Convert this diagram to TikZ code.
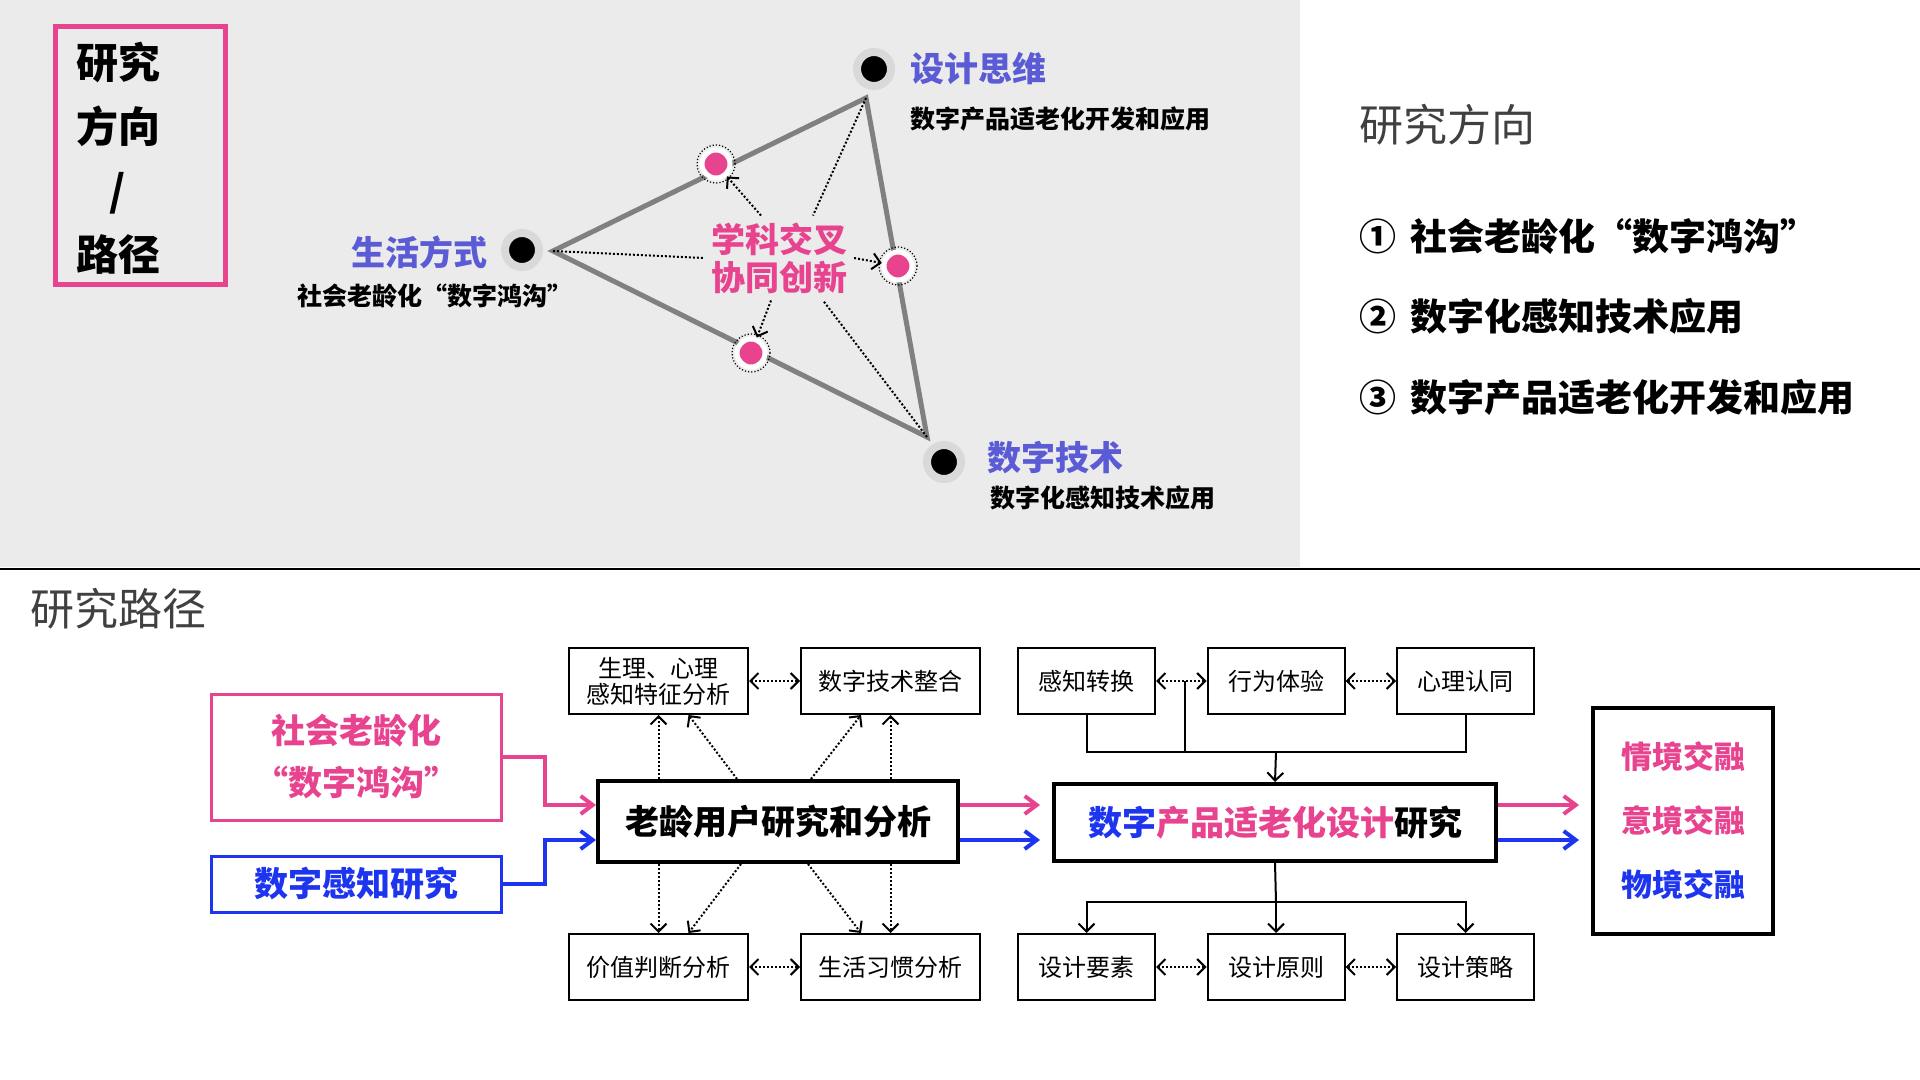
\documentclass[tikz,border=0pt]{standalone}
\usepackage{fontspec}
\newfontfamily\cjk{Noto Sans CJK SC}
\usetikzlibrary{arrows.meta,calc}
\definecolor{pinkc}{HTML}{E8438F}
\definecolor{labc}{HTML}{5B5BD6}
\definecolor{bluec}{HTML}{1E35F0}
\definecolor{bgc}{HTML}{EBEBEB}
\begin{document}
\begin{tikzpicture}[x=0.5pt,y=-0.5pt,font=\cjk,
box/.style={draw,line width=1pt,minimum width=89.5pt,minimum height=33pt,inner sep=1pt,font=\cjk\fontsize{12}{13}\selectfont,align=center},
gbox/.style={box,minimum width=68.5pt},
dar/.style={densely dotted,line width=1pt,{Straight Barb[length=4pt]}-{Straight Barb[length=4pt]}},
sar/.style={densely dotted,line width=1pt,-{Straight Barb[length=4pt]}},
car/.style={line width=2pt,-{Straight Barb[length=6pt,width=9pt]}},
main node/.style={circle,fill=black,minimum size=17pt,inner sep=0pt,draw=black!15,line width=4pt},
mid node/.style={circle,fill=pinkc,minimum size=14pt,inner sep=0pt,draw=white,line width=2.5pt},
big/.style={font=\cjk\fontsize{17}{20}\selectfont\bfseries},
sub/.style={font=\cjk\fontsize{12.5}{14}\selectfont\bfseries}]
\useasboundingbox (0,0) rectangle (1920,1080);
\fill[bgc] (0,0) rectangle (1300,567);
\draw[line width=1pt] (0,569) -- (1920,569);

% research direction
\node[draw=pinkc,line width=2.5pt,minimum width=85pt,minimum height=129pt] (title) at (140,156) {};
\node[align=center,font=\cjk\fontsize{21}{32}\selectfont\bfseries] (titlet) at (118,158) {研究\\方向\\/\\路径};

\coordinate (vt) at (866,98);
\coordinate (vl) at (553,251);
\coordinate (vb) at (927,437);
\draw[gray,line width=2.5pt] (vt) -- (vl) -- (vb) -- cycle;
\node[text=pinkc,align=center,font=\cjk\fontsize{17}{19}\selectfont\bfseries] (cross) at (779,258) {学科交叉\\协同创新};
\draw[densely dotted,line width=1pt] (vl) -- (cross.west);
\draw[densely dotted,line width=1pt] (vt) -- ([xshift=17pt]cross.north);
\draw[densely dotted,line width=1pt] (vb) -- ([xshift=22pt]cross.south);

\node[main node] (dt) at (874,69) {};
\node[main node] (ls) at (522,250) {};
\node[main node] (tech) at (944,462) {};
\node[mid node] (m1) at (716,164) {};
\node[mid node] (m2) at (898,266) {};
\node[mid node] (m3) at (751,353) {};
\foreach \m in {m1,m2,m3} \draw[densely dotted,line width=0.6pt] (\m) circle (9.5pt);
\draw[sar] ([xshift=-9pt]cross.north) -- (m1);
\draw[sar] (cross.east) -- (m2);
\draw[sar] ([xshift=-4pt]cross.south) -- (m3);

\node[big,text=labc,anchor=west] (dtl) at (903,69) {设计思维};
\node[sub,anchor=west] at (903,119) {数字产品适老化开发和应用};
\node[big,text=labc,anchor=east] (lsl) at (495,252) {生活方式};
\node[sub] at (435,296) {社会老龄化“数字鸿沟”};
\node[big,text=labc,anchor=west] (techl) at (980,458) {数字技术};
\node[sub,anchor=west] at (983,498) {数字化感知技术应用};

\node[anchor=west,text=black!75,font=\cjk\fontsize{22}{24}\selectfont] at (1352,125) {研究方向};
\node[anchor=west,font=\cjk\fontsize{18.5}{20}\selectfont\bfseries] at (1352,236) {①\,\ 社会老龄化“数字鸿沟”};
\node[anchor=west,font=\cjk\fontsize{18.5}{20}\selectfont\bfseries] at (1352,316) {②\,\ 数字化感知技术应用};
\node[anchor=west,font=\cjk\fontsize{18.5}{20}\selectfont\bfseries] at (1352,397) {③\,\ 数字产品适老化开发和应用};

% research path
\node[text=black!75,font=\cjk\fontsize{22}{24}\selectfont] at (118,609) {研究路径};
\node[draw=pinkc,line width=1.5pt,minimum width=145pt,minimum height=63pt,text=pinkc,align=center,
font=\cjk\fontsize{17}{26}\selectfont\bfseries] (aging) at (356,757) {社会老龄化\\“数字鸿沟”};
\node[draw=bluec,line width=1.5pt,minimum width=145pt,minimum height=28pt,text=bluec,
font=\cjk\fontsize{17}{18}\selectfont\bfseries] (sense) at (356,884) {数字感知研究};
\node[draw,line width=2pt,minimum width=180pt,minimum height=40.5pt,
font=\cjk\fontsize{17}{18}\selectfont\bfseries] (user) at (778,821.5) {老龄用户研究和分析};

\node[box] (phys) at (658.5,681) {生理、心理\\感知特征分析};
\node[box] (integ) at (890.5,681) {数字技术整合};
\node[box] (value) at (658.5,967) {价值判断分析};
\node[box] (habit) at (890.5,967) {生活习惯分析};
\draw[dar] (phys) -- (integ);
\draw[dar] (value) -- (habit);
\draw[sar] (user.north -| phys.south) -- (phys.south);
\draw[sar] ([xshift=-20.5pt]user.north) -- ([xshift=15pt]phys.south);
\draw[sar] ([xshift=16.5pt]user.north) -- ([xshift=-14.75pt]integ.south);
\draw[sar] (user.north -| integ.south) -- (integ.south);
\draw[sar] (user.south -| value.north) -- (value.north);
\draw[sar] ([xshift=-18.5pt]user.south) -- ([xshift=15pt]value.north);
\draw[sar] ([xshift=15pt]user.south) -- ([xshift=-14.75pt]habit.north);
\draw[sar] (user.south -| habit.north) -- (habit.north);

\node[draw,line width=2pt,minimum width=221pt,minimum height=38.5pt,
font=\cjk\fontsize{17}{18}\selectfont\bfseries] (design) at (1275,822.5)
{\textcolor{bluec}{数字}\textcolor{pinkc}{产品适老化设计}研究};
\node[gbox] (conv) at (1086.5,681) {感知转换};
\node[gbox] (behav) at (1276,681) {行为体验};
\node[gbox] (psych) at (1465.5,681) {心理认同};
\node[gbox] (elem) at (1086.5,967) {设计要素};
\node[gbox] (princ) at (1276,967) {设计原则};
\node[gbox] (strat) at (1465.5,967) {设计策略};
\draw[dar] (conv) -- (behav);
\draw[dar] (behav) -- (psych);
\draw[dar] (elem) -- (princ);
\draw[dar] (princ) -- (strat);
\coordinate (jt) at (1276,752);
\coordinate (jb) at (1276,902);
\draw[line width=1pt] (conv.south) |- (jt) -| (psych.south);
\draw[line width=1pt] (1185,681) -- (1185,752);
\draw[line width=1pt,-{Straight Barb[length=4pt]}] (jt) -- (design.north);
\draw[line width=1pt] (design.south) -- (jb);
\draw[line width=1pt,-{Straight Barb[length=4pt]}] (jb) -| (elem.north);
\draw[line width=1pt,-{Straight Barb[length=4pt]}] (jb) -| (strat.north);
\draw[line width=1pt,-{Straight Barb[length=4pt]}] (jb) -- (princ.north);

\node[draw,line width=2pt,minimum width=90pt,minimum height=113pt,align=center,
font=\cjk\fontsize{15.5}{32}\selectfont\bfseries] (out) at (1683,821)
{\textcolor{pinkc}{情境交融}\\\textcolor{pinkc}{意境交融}\\\textcolor{bluec}{物境交融}};

\draw[car,pinkc] (aging.east |- 0,757) -- (545,757) -- (545,805) -- (user.west |- 0,805);
\draw[car,bluec] (sense.east) -- (545,884) -- (545,840) -- (user.west |- 0,840);
\draw[car,pinkc] (user.east |- 0,805) -- ([xshift=-6pt]design.west |- 0,805);
\draw[car,bluec] (user.east |- 0,840) -- ([xshift=-6pt]design.west |- 0,840);
\draw[car,pinkc] (design.east |- 0,805) -- ([xshift=-6pt]out.west |- 0,805);
\draw[car,bluec] (design.east |- 0,840) -- ([xshift=-6pt]out.west |- 0,840);
\end{tikzpicture}
\end{document}
